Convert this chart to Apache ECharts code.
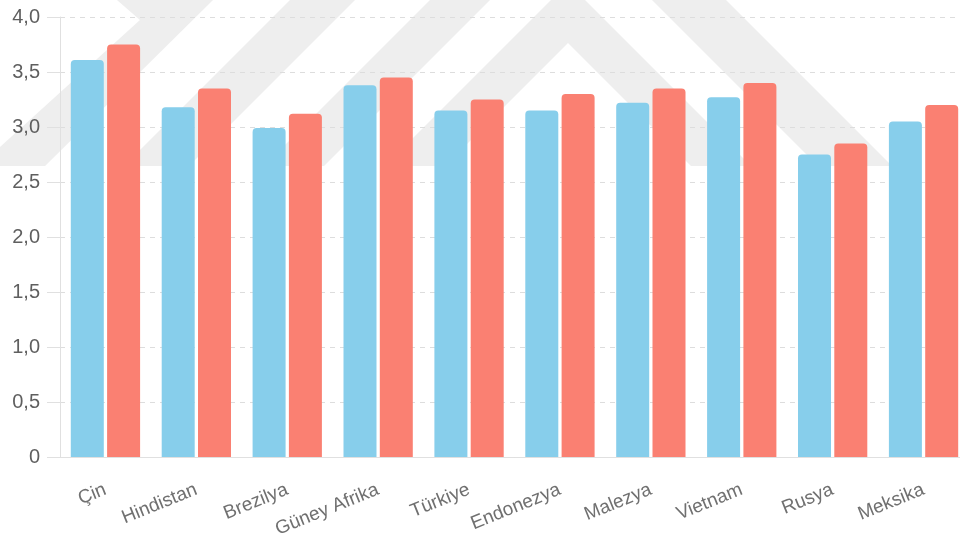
<!DOCTYPE html>
<html>
<head>
<meta charset="utf-8">
<script src="https://cdn.jsdelivr.net/npm/echarts@6/dist/echarts.min.js"></script>
<style>
  html, body { margin: 0; padding: 0; background: #ffffff; overflow: hidden; }
  /* the plot runs a few pixels past the visible right edge */
  #chart { width: 969px; height: 549px; }
</style>
</head>
<body>
<div id="chart"></div>
<script>
// Country categories along the x axis
const countries = ['Çin', 'Hindistan', 'Brezilya', 'Güney Afrika', 'Türkiye',
  'Endonezya', 'Malezya', 'Vietnam', 'Rusya', 'Meksika'];

// First (blue) and second (salmon) series
const seriesA = [3.61, 3.18, 2.99, 3.38, 3.15, 3.15, 3.22, 3.27, 2.75, 3.05];
const seriesB = [3.75, 3.35, 3.12, 3.45, 3.25, 3.30, 3.35, 3.40, 2.85, 3.20];

// Y axis range and step
const yMin = 0;
const yMax = 4;
const yStep = 0.5;

// Light background watermark bands (pixel polygons)
const band = '#eeeeee';
const watermark = [
  [[0, 147], [140, 20], [117, 0], [213, 0], [45, 166], [0, 166]],
  [[290, 0], [355, 0], [189, 166], [124, 166]],
  [[430, 0], [490, 0], [324, 166], [264, 166]],
  [[385, 166], [568, -17], [751, 166], [691, 166], [568, 43], [445, 166]],
  [[652, 0], [726, 0], [892, 166], [818, 166]]
];

const chart = echarts.init(document.getElementById('chart'), null, { renderer: 'canvas' });

chart.setOption({
  animation: false,
  backgroundColor: '#ffffff',
  graphic: watermark.map(pts => ({
    type: 'polygon',
    z: -10,
    silent: true,
    shape: { points: pts },
    style: { fill: band }
  })),
  grid: { left: 60, right: 0, top: 17, bottom: 92, containLabel: false },
  xAxis: {
    type: 'category',
    data: countries,
    axisLine: { show: true, lineStyle: { color: '#e0e0e0', width: 1 } },
    axisTick: { show: false },
    axisLabel: {
      rotate: 22,
      margin: 32,
      color: '#707070',
      fontSize: 19,
      fontFamily: 'Liberation Sans, Arial, sans-serif'
    }
  },
  yAxis: {
    type: 'value',
    min: yMin,
    max: yMax,
    interval: yStep,
    axisLine: { show: true, lineStyle: { color: '#e0e0e0', width: 1 } },
    axisTick: { show: true, length: 13, lineStyle: { color: '#e0e0e0' } },
    axisLabel: {
      margin: 20,
      color: '#5f5f5f',
      fontSize: 20,
      fontFamily: 'Liberation Sans, Arial, sans-serif',
      formatter: v => v === 0 ? '0' : v.toFixed(1).replace('.', ',')
    },
    splitLine: { show: true, lineStyle: { color: '#dddddd', type: [5, 5], width: 1 } }
  },
  series: [
    {
      name: 'A',
      type: 'bar',
      data: seriesA,
      barWidth: 33,
      barGap: '10%',
      itemStyle: { color: '#87CEEB', borderRadius: [4, 4, 0, 0] }
    },
    {
      name: 'B',
      type: 'bar',
      data: seriesB,
      barWidth: 33,
      itemStyle: { color: '#FA8072', borderRadius: [4, 4, 0, 0] }
    }
  ]
});
</script>
</body>
</html>
